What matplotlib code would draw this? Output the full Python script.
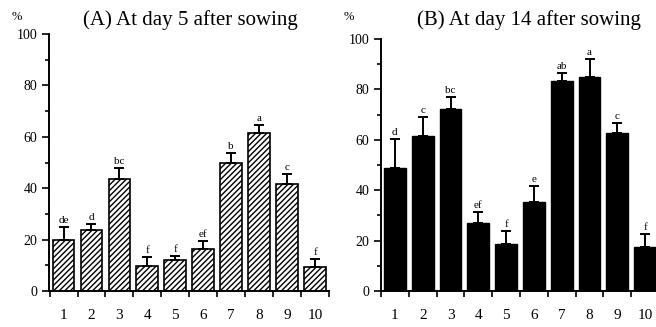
import numpy as np
import matplotlib
matplotlib.use("Agg")
import matplotlib.pyplot as plt

# data
treatments = [str(i) for i in range(1, 11)]

day5_mean = [19.8, 23.7, 43.5, 9.8, 12.0, 16.2, 49.7, 61.6, 41.6, 9.3]
day5_err = [5.2, 2.3, 4.5, 3.6, 1.6, 3.3, 4.1, 2.9, 3.9, 3.3]
day5_letters = ["de", "d", "bc", "f", "f", "ef", "b", "a", "c", "f"]

day14_mean = [48.9, 61.5, 72.3, 26.9, 18.7, 35.3, 83.3, 84.8, 62.8, 17.3]
day14_err = [11.3, 7.4, 4.6, 4.3, 5.2, 6.5, 3.1, 7.2, 3.7, 5.2]
day14_letters = ["d", "c", "bc", "ef", "f", "e", "ab", "a", "c", "f"]

plt.rcParams['font.family'] = ['Liberation Serif', 'DejaVu Serif']
plt.rcParams['hatch.linewidth'] = 1.0

fig = plt.figure(figsize=(6.56, 3.27), dpi=100)
W, H = 656, 327

ax_a = fig.add_axes([49 / W, 36 / H, 280 / W, 257 / H])
ax_b = fig.add_axes([381 / W, 36 / H, 278 / W, 252 / H])

x = np.arange(1, 11)


def draw_panel(ax, means, errs, letters, hatched, xlim):
    if hatched:
        ax.bar(x, means, width=0.78, color="white", edgecolor="black",
               linewidth=1.2, hatch="//////", zorder=2)
    else:
        ax.bar(x, means, width=0.78, color="black", edgecolor="black",
               linewidth=1.0, zorder=2)
    lo = np.zeros(len(means))
    ax.errorbar(x, means, yerr=[lo, errs], fmt="none", ecolor="black",
                elinewidth=1.4, capsize=3.8, capthick=1.4, zorder=3)
    for xi, m, e, lab in zip(x, means, errs, letters):
        ax.text(xi, m + e + 0.8, lab, ha="center", va="bottom", fontsize=8)
    ax.set_ylim(0, 100)
    ax.set_xlim(*xlim)
    ax.set_yticks([0, 20, 40, 60, 80, 100])
    ax.set_yticks(np.arange(10, 100, 20), minor=True)
    ax.set_xticks(x)
    ax.set_xticklabels(treatments, fontsize=11)
    ax.set_xticks(np.arange(0.5, 10.6, 1), minor=True)
    ax.tick_params(axis="x", which="major", length=0, pad=13)
    ax.tick_params(axis="x", which="minor", length=4, width=1.2, direction="out")
    ax.tick_params(axis="y", which="both", direction="out", width=1.2, labelsize=10)
    ax.tick_params(axis="y", which="major", length=5)
    ax.tick_params(axis="y", which="minor", length=3)
    for s in ["top", "right"]:
        ax.spines[s].set_visible(False)
    for s in ["left", "bottom"]:
        ax.spines[s].set_linewidth(1.4)


draw_panel(ax_a, day5_mean, day5_err, day5_letters, True, (0.48, 10.5))
draw_panel(ax_b, day14_mean, day14_err, day14_letters, False, (0.53, 10.5))

fig.text(190 / W, 1 - 20 / H, "(A) At day 5 after sowing",
         ha="center", va="center", fontsize=15)
fig.text(529 / W, 1 - 20 / H, "(B) At day 14 after sowing",
         ha="center", va="center", fontsize=15)

fig.text(17 / W, 1 - 17 / H, "%", ha="center", va="center", fontsize=9)
fig.text(349 / W, 1 - 17 / H, "%", ha="center", va="center", fontsize=9)

fig.savefig("out.png", dpi=100)
